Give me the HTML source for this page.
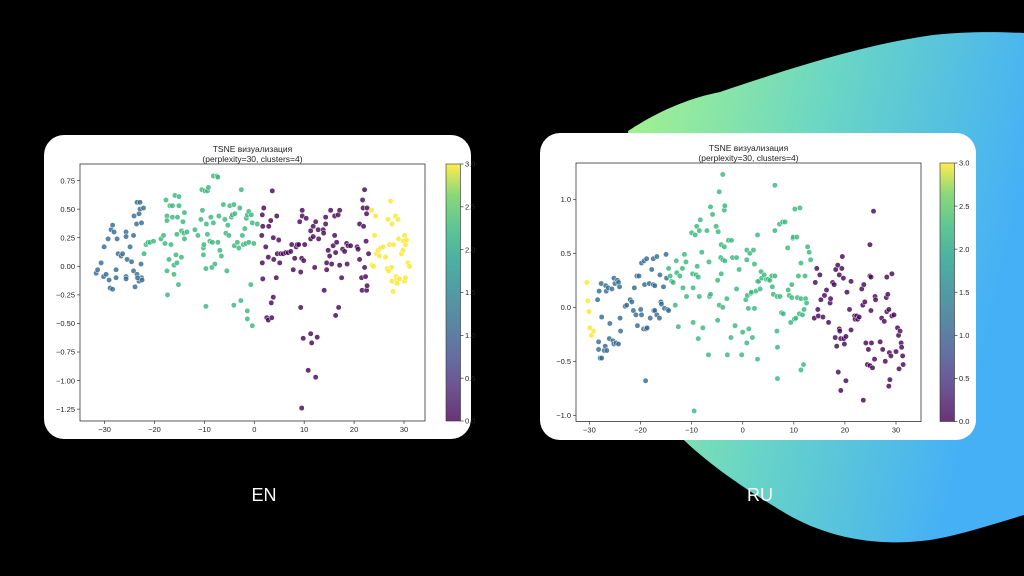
<!DOCTYPE html>
<html><head><meta charset="utf-8"><style>
html,body{margin:0;padding:0;background:#000;width:1024px;height:576px;overflow:hidden}
svg{display:block}
text{font-family:"Liberation Sans","DejaVu Sans",sans-serif}
</style></head><body>
<svg id="s" width="1024" height="576" viewBox="0 0 1024 576" xmlns="http://www.w3.org/2000/svg">
<defs>
<linearGradient id="blobg" x1="0" y1="0" x2="1" y2="0.3">
<stop offset="0" stop-color="#a8f48a"/><stop offset="0.5" stop-color="#6ad6c4"/><stop offset="1" stop-color="#45b0f6"/>
</linearGradient>
<linearGradient id="vir" x1="0" y1="1" x2="0" y2="0">
<stop offset="0" stop-color="#440154"/><stop offset="0.13" stop-color="#482878"/><stop offset="0.25" stop-color="#3e4989"/>
<stop offset="0.38" stop-color="#31688e"/><stop offset="0.5" stop-color="#26828e"/><stop offset="0.63" stop-color="#1f9e89"/>
<stop offset="0.75" stop-color="#35b779"/><stop offset="0.88" stop-color="#6ece58"/><stop offset="1" stop-color="#fde725"/>
</linearGradient>
</defs>
<path fill="url(#blobg)" d="M628,131 C660,110 690,98 720,92 C780,72 860,45 933,35 C970,31 1000,32 1024,33 L1024,515 C990,525 960,535 930,540 C870,548 820,535 780,510 C730,480 690,450 665,420 Z"/>
<rect x="44" y="135" width="427" height="304" rx="20" fill="#fff"/>
<rect x="540" y="133" width="436" height="307" rx="20" fill="#fff"/>
<text x="264" y="501" fill="#fff" font-size="18" text-anchor="middle">EN</text>
<text x="760" y="501" fill="#fff" font-size="18" text-anchor="middle">RU</text>
<g id="g"></g>
</svg>
<script>
// EN chart data
const enCluster0 = [[1.6,0.45],[1.5,0.27],[1.6,0.03],[1.7,-0.11],[1.9,0.51],[1.7,0.35],[2.3,0.17],[2.5,-0.45],[2.8,-0.47],[2.8,0.08],[2.9,0.35],[3.3,0.40],[3.4,-0.32],[3.5,-0.45],[3.6,0.66],[3.8,-0.27],[3.8,0.25],[3.9,0.06],[4.4,-0.10],[4.5,0.44],[4.6,0.11],[4.9,0.23],[5.1,0.03],[5.3,0.11],[5.8,0.11],[6.3,0.12],[6.8,0.12],[7.3,0.13],[7.5,0.19],[7.8,-0.03],[8.1,0.07],[8.4,0.17],[8.6,0.19],[8.9,0.19],[9.1,0.39],[9.3,-0.05],[9.3,-0.36],[9.5,0.07],[9.5,-1.24],[9.6,0.49],[9.6,0.44],[9.8,-0.63],[9.9,0.05],[10.1,0.19],[10.4,0.42],[10.8,-0.91],[11.3,0.24],[11.3,0.31],[11.3,-0.59],[11.5,-0.67],[11.8,0.26],[11.8,0.35],[12.1,-0.01],[12.3,-0.97],[12.3,0.39],[12.6,-0.62],[12.8,0.32],[12.9,0.24],[13.8,0.32],[13.9,0.29],[14.0,-0.21],[14.3,0.37],[14.3,0.43],[14.5,0.03],[14.5,-0.03],[14.8,0.14],[15.1,0.09],[15.3,0.49],[15.5,0.02],[15.8,0.18],[16.1,0.27],[16.1,0.44],[16.3,0.12],[16.3,-0.43],[16.5,0.21],[16.8,0.45],[16.9,-0.36],[17.1,0.49],[17.1,0.01],[17.5,-0.10],[17.7,0.15],[18.1,0.13],[18.5,0.20],[18.6,0.02],[18.8,0.18],[19.3,0.18],[20.6,0.17],[20.8,0.15],[21.1,0.37],[21.1,0.06],[21.5,-0.10],[21.6,-0.21],[21.7,0.58],[21.8,0.51],[21.9,0.35],[22.1,-0.01],[22.1,0.67],[22.3,-0.09],[22.4,0.22],[22.5,-0.21],[22.5,0.46],[22.6,-0.17],[22.6,0.51],[22.9,0.11]];
const enCluster1 = [[-31.7,-0.06],[-31.4,-0.03],[-30.7,0.03],[-30.1,0.17],[-30.2,-0.09],[-29.7,-0.07],[-29.3,0.24],[-29.1,-0.12],[-28.9,-0.19],[-28.4,-0.20],[-28.7,0.32],[-28.4,0.36],[-28.1,0.30],[-27.7,-0.03],[-27.7,-0.10],[-27.5,0.24],[-27.3,0.11],[-26.7,0.09],[-26.4,0.11],[-25.7,0.30],[-25.7,0.26],[-25.7,-0.09],[-25.7,-0.11],[-25.5,0.06],[-24.9,0.17],[-24.6,0.04],[-24.2,0.27],[-24.1,0.44],[-24.2,-0.04],[-23.9,-0.18],[-23.6,0.37],[-23.5,0.56],[-23.5,-0.07],[-23.1,0.46],[-22.9,0.56],[-22.9,0.50],[-23.1,-0.13],[-22.7,0.02],[-22.6,0.38],[-22.6,-0.10],[-22.5,-0.12],[-22.2,0.51],[-23.4,-0.10]];
const enCluster2 = [[-22.1,0.11],[-21.7,0.19],[-21.3,0.21],[-20.9,0.21],[-20.2,0.22],[-18.7,0.24],[-18.2,0.27],[-17.9,0.20],[-17.7,0.58],[-17.5,0.44],[-17.5,0.40],[-17.5,-0.04],[-17.4,-0.25],[-17.1,0.06],[-16.9,0.53],[-16.7,0.19],[-16.4,0.53],[-16.4,0.43],[-16.1,0.01],[-16.1,-0.07],[-15.9,0.62],[-15.7,0.10],[-15.5,0.03],[-15.5,0.28],[-15.4,0.43],[-15.2,-0.16],[-15.1,0.53],[-15.1,0.61],[-14.6,0.08],[-14.6,0.31],[-14.3,0.39],[-14.1,0.29],[-14.0,0.24],[-14.0,0.47],[-13.5,0.30],[-11.9,0.32],[-11.3,0.27],[-10.7,0.41],[-10.5,0.67],[-10.4,0.49],[-10.2,0.16],[-10.2,0.10],[-10.1,0.19],[-9.9,0.66],[-9.7,-0.35],[-9.7,-0.02],[-9.6,0.37],[-9.4,0.28],[-9.4,0.66],[-9.2,0.69],[-8.9,0.22],[-8.7,0.43],[-8.5,-0.01],[-8.4,0.21],[-8.2,0.79],[-8.2,0.38],[-7.9,0.02],[-7.5,0.79],[-7.3,0.78],[-7.3,0.21],[-7.1,0.44],[-6.9,0.14],[-6.6,0.09],[-6.2,0.54],[-5.9,0.41],[-5.7,0.29],[-5.5,-0.04],[-5.3,0.36],[-5.1,0.27],[-4.9,0.53],[-4.6,0.43],[-4.4,0.45],[-4.1,-0.34],[-4.1,0.54],[-4.0,0.18],[-3.9,0.46],[-3.4,0.21],[-3.1,0.16],[-2.9,0.51],[-2.7,-0.30],[-2.6,0.67],[-2.4,0.27],[-2.2,0.19],[-1.9,0.33],[-1.7,0.20],[-1.6,0.42],[-1.4,-0.39],[-1.4,0.45],[-1.4,-0.46],[-1.1,0.48],[-1.1,0.21],[-0.7,-0.16],[-0.6,0.45],[-0.4,-0.52],[-0.4,0.38],[-0.1,0.20],[0.6,0.37]];
const enCluster3 = [[23.5,0.49],[23.6,0.01],[23.9,0.00],[24.1,0.27],[24.3,0.44],[24.5,0.11],[24.8,0.14],[25.1,0.09],[25.3,0.16],[25.8,0.17],[26.3,0.08],[26.6,-0.02],[26.8,0.41],[26.9,-0.04],[27.1,0.19],[27.3,0.57],[27.5,-0.01],[27.6,-0.13],[27.6,0.37],[27.8,-0.22],[27.9,0.19],[28.3,0.44],[28.4,-0.09],[28.5,-0.12],[28.6,-0.15],[28.8,0.41],[28.9,0.24],[29.1,-0.11],[29.5,0.11],[29.8,0.14],[29.9,0.22],[30.1,0.27],[30.1,-0.13],[30.3,0.19],[30.3,-0.10],[30.5,0.23],[30.8,0.03],[31.1,0.00]];
const enXTicks = [-30,-20,-10,0,10,20,30];
const enYTicks = [0.75,0.5,0.25,0,-0.25,-0.5,-0.75,-1.0,-1.25];
const enYTickLabels = ["0.75","0.50","0.25","0.00","\u22120.25","\u22120.50","\u22120.75","\u22121.00","\u22121.25"];
// RU chart data
const ruCluster0 = [[14.0,-0.10],[14.2,0.23],[14.5,0.36],[14.7,-0.02],[14.8,-0.08],[15.1,0.30],[15.3,0.07],[15.7,-0.09],[16.0,0.11],[16.4,0.16],[16.8,-0.14],[17.1,0.04],[17.2,0.08],[17.6,0.23],[17.9,0.21],[18.1,-0.28],[18.2,0.35],[18.4,-0.36],[18.6,0.39],[18.7,-0.60],[18.9,0.30],[18.9,-0.20],[19.0,-0.22],[19.2,-0.29],[19.2,-0.77],[19.4,0.36],[19.5,0.47],[19.7,0.27],[19.8,-0.29],[19.9,-0.34],[20.2,-0.68],[20.2,-0.27],[20.4,0.14],[20.9,-0.02],[21.2,0.24],[21.2,-0.21],[21.9,-0.08],[22.0,-0.11],[22.3,-0.08],[22.5,-0.11],[22.8,-0.09],[23.3,0.17],[23.5,0.02],[23.6,-0.86],[23.7,0.21],[23.9,0.05],[24.1,-0.33],[24.4,-0.53],[24.6,-0.39],[24.9,0.58],[24.9,0.29],[25.1,0.28],[24.9,-0.54],[25.1,-0.03],[25.2,-0.33],[25.4,-0.56],[25.6,0.89],[25.8,-0.48],[25.9,0.10],[26.0,0.07],[26.9,-0.32],[27.2,-0.10],[27.4,-0.39],[27.7,-0.13],[27.9,-0.50],[28.1,0.09],[28.2,0.28],[28.2,-0.04],[28.4,0.12],[28.6,-0.02],[28.6,-0.73],[28.7,-0.42],[28.8,-0.67],[29.0,-0.45],[29.2,-0.08],[29.2,0.31],[29.6,-0.07],[30.0,-0.41],[30.3,-0.19],[30.5,-0.26],[30.6,-0.57],[30.8,-0.22],[31.0,-0.33],[31.1,-0.37],[31.3,-0.45],[31.4,-0.53]];
const ruCluster1 = [[-28.4,0.07],[-28.2,-0.32],[-28.2,-0.39],[-28.1,0.15],[-27.9,-0.47],[-27.7,0.22],[-27.6,-0.09],[-27.6,-0.47],[-27.1,-0.40],[-26.9,-0.36],[-26.8,0.20],[-26.7,0.15],[-26.6,-0.40],[-26.3,0.18],[-26.1,-0.29],[-26.0,-0.15],[-25.6,0.17],[-25.4,-0.31],[-25.2,0.27],[-25.2,-0.34],[-25.0,0.22],[-24.8,-0.33],[-24.5,0.25],[-24.3,0.23],[-24.3,-0.34],[-24.1,0.19],[-24.0,-0.10],[-23.9,-0.22],[-23.0,0.01],[-22.7,0.02],[-22.0,0.07],[-21.7,0.05],[-21.4,-0.03],[-21.2,0.18],[-20.9,-0.07],[-20.7,0.29],[-20.6,-0.17],[-20.3,0.29],[-19.96,-0.02],[-19.8,0.41],[-19.8,-0.07],[-19.4,-0.20],[-19.3,0.43],[-19.2,0.21],[-19.0,-0.68],[-18.9,-0.20],[-18.8,0.45],[-18.7,-0.19],[-18.3,0.22],[-18.1,-0.10],[-17.8,0.35],[-17.5,0.21],[-17.5,0.45],[-17.4,-0.03],[-17.2,0.20],[-16.8,0.47],[-17.2,-0.03],[-16.8,-0.07],[-16.3,-0.10],[-16.2,0.30],[-16.0,0.05],[-15.9,0.03],[-15.5,0.19],[-15.3,-0.01],[-15.0,0.49],[-14.9,0.27],[-14.7,-0.02],[-14.5,-0.03]];
const ruCluster2 = [[-14.5,0.36],[-14.2,0.29],[-13.9,0.24],[-13.6,0.23],[-13.2,0.02],[-13.0,0.43],[-12.9,0.32],[-12.6,-0.18],[-12.3,0.29],[-11.8,0.36],[-11.7,0.18],[-11.4,0.49],[-11.1,0.42],[-11.0,0.10],[-10.0,0.69],[-9.8,0.31],[-9.7,0.18],[-9.7,-0.14],[-9.5,-0.96],[-9.3,0.67],[-9.1,0.30],[-9.0,0.75],[-8.9,0.38],[-8.7,0.28],[-8.7,-0.29],[-8.5,0.71],[-8.5,0.10],[-8.3,0.81],[-8.0,0.51],[-7.8,-0.19],[-7.0,0.71],[-6.7,-0.44],[-6.6,0.42],[-6.5,0.10],[-6.3,0.12],[-6.3,0.93],[-5.9,0.86],[-5.2,0.75],[-4.9,0.25],[-4.9,-0.12],[-4.8,0.70],[-4.6,0.02],[-4.6,1.07],[-4.3,0.46],[-4.2,0.58],[-4.2,0.31],[-3.9,1.23],[-3.9,0.44],[-3.9,0.00],[-3.6,0.56],[-3.6,0.90],[-3.5,0.94],[-3.5,0.43],[-3.1,0.08],[-3.0,-0.44],[-2.8,0.62],[-2.3,-0.28],[-2.2,0.62],[-2.0,0.46],[-1.5,-0.17],[-1.2,0.46],[-1.2,0.17],[-0.7,0.35],[-0.2,-0.44],[0.0,-0.23],[0.6,0.07],[0.8,0.53],[0.8,0.44],[0.8,-0.33],[0.9,0.11],[1.1,-0.01],[1.2,-0.20],[1.4,0.50],[1.6,0.13],[1.7,0.14],[1.9,-0.28],[2.1,0.53],[2.3,-0.01],[2.3,0.40],[2.6,0.15],[2.9,0.67],[2.9,0.24],[3.1,0.24],[2.9,-0.48],[3.4,0.17],[3.6,0.33],[3.7,0.27],[4.2,0.30],[4.6,0.26],[5.0,0.26],[5.3,0.25],[5.7,0.29],[5.8,0.19],[6.0,0.12],[6.3,0.71],[6.3,0.29],[6.3,1.13],[6.7,0.10],[6.7,-0.22],[6.8,-0.37],[6.8,-0.66],[7.2,0.77],[7.3,0.10],[7.6,-0.05],[7.8,0.79],[7.96,-0.06],[8.3,0.79],[8.8,0.55],[8.9,0.16],[9.1,0.11],[9.4,-0.14],[9.6,0.21],[9.6,0.09],[9.8,0.64],[9.9,0.65],[10.1,-0.11],[10.2,0.91],[10.4,-0.10],[10.6,0.65],[10.7,0.09],[10.9,0.29],[11.1,-0.06],[11.2,0.92],[11.4,0.41],[11.4,0.08],[11.4,-0.58],[11.7,-0.07],[11.9,-0.53],[12.0,-0.02],[12.2,0.29],[12.3,0.08],[12.5,0.04],[12.7,0.56],[13.0,0.51],[13.3,0.44]];
const ruCluster3 = [[-30.5,0.23],[-30.3,0.06],[-30.1,-0.04],[-29.9,-0.19],[-29.6,-0.26],[-29.2,-0.22]];
const ruXTicks = [-30,-20,-10,0,10,20,30];
const ruYTicks = [1.0,0.5,0.0,-0.5,-1.0];
const ruYTickLabels = ["1.0","0.5","0.0","\u22120.5","\u22121.0"];
const cbTicks = [0,0.5,1,1.5,2,2.5,3];
const cbTickLabels = ["0.0","0.5","1.0","1.5","2.0","2.5","3.0"];
const clusterColors = ["#440154","#31688e","#35b779","#fde725"];

const NS="http://www.w3.org/2000/svg";
const root=document.getElementById('g');
function mk(tag,attrs,parent){const e=document.createElementNS(NS,tag);for(const k in attrs)e.setAttribute(k,attrs[k]);(parent||root).appendChild(e);return e;}
function fmtX(v){return v<0?"\u2212"+Math.abs(v):String(v);}

function drawChart(cfg){
  const g=mk('g',{});
  
  
  const sx=v=>cfg.px0+(v-cfg.x0)*cfg.pxPerX;
  const sy=v=>cfg.py0-(v-cfg.y0)*cfg.pxPerY;
  const t1=mk('text',{x:(cfg.L+cfg.R)/2,y:cfg.T-12,'font-size':8.5,'text-anchor':'middle',fill:'#222'},g);
  t1.textContent='TSNE визуализация';
  
  
  const t2=mk('text',{x:(cfg.L+cfg.R)/2,y:cfg.T-2,'font-size':8.5,'text-anchor':'middle',fill:'#222'},g);
  t2.textContent='(perplexity=30, clusters=4)';
  
  
  const clusters=cfg.clusters;
  const pts=mk('g',{},g);
  
  
  clusters.forEach((arr,ci)=>{
    arr.forEach(p=>{
      const c=mk('circle',{cx:sx(p[0]),cy:sy(p[1]),r:2.7,fill:clusterColors[ci],'fill-opacity':0.8,stroke:'#fff','stroke-width':0.5},pts);
      
      
    });
  });
  const frame=mk('rect',{x:cfg.L,y:cfg.T,width:cfg.R-cfg.L,height:cfg.B-cfg.T,fill:'none',stroke:'#333','stroke-width':0.8},g);
  
  
  cfg.xTicks.forEach(v=>{
    const x=sx(v);
    mk('line',{x1:x,x2:x,y1:cfg.B,y2:cfg.B+3,stroke:'#333','stroke-width':0.7},g);
    const t=mk('text',{x:x,y:cfg.B+11,'font-size':7.5,'text-anchor':'middle',fill:'#222'},g);
    t.textContent=fmtX(v);
    
    
  });
  cfg.yTicks.forEach((v,i)=>{
    const y=sy(v);
    mk('line',{x1:cfg.L-3,x2:cfg.L,y1:y,y2:y,stroke:'#333','stroke-width':0.7},g);
    const t=mk('text',{x:cfg.L-5,y:y+2.7,'font-size':7.5,'text-anchor':'end',fill:'#222'},g);
    t.textContent=cfg.yLabels[i];
    
    
  });
  const cb=mk('rect',{x:cfg.cbL,y:cfg.T,width:cfg.cbW,height:cfg.B-cfg.T,fill:'url(#vir)','fill-opacity':0.8,stroke:'#333','stroke-width':0.6},g);
  
  
  cbTicks.forEach((v,i)=>{
    const y=cfg.B-(v/3)*(cfg.B-cfg.T);
    mk('line',{x1:cfg.cbL+cfg.cbW,x2:cfg.cbL+cfg.cbW+3,y1:y,y2:y,stroke:'#333','stroke-width':0.7},g);
    const t=mk('text',{x:cfg.cbL+cfg.cbW+4.5,y:y+2.7,'font-size':7.5,fill:'#222'},g);
    t.textContent=cbTickLabels[i];
    
    
  });
}
drawChart({prefix:'en',L:80,R:425,T:164,B:421,px0:254.3,x0:0,pxPerX:4.99,py0:266.3,y0:0,pxPerY:114.3,
  clusters:[enCluster0,enCluster1,enCluster2,enCluster3],xTicks:enXTicks,yTicks:enYTicks,yLabels:enYTickLabels,cbL:446,cbW:14.5});
drawChart({prefix:'ru',L:576,R:921,T:163,B:421.5,px0:742.7,x0:0,pxPerX:5.11,py0:307.3,y0:0,pxPerY:108,
  clusters:[ruCluster0,ruCluster1,ruCluster2,ruCluster3],xTicks:ruXTicks,yTicks:ruYTicks,yLabels:ruYTickLabels,cbL:940,cbW:14.5});
</script>
</body></html>
